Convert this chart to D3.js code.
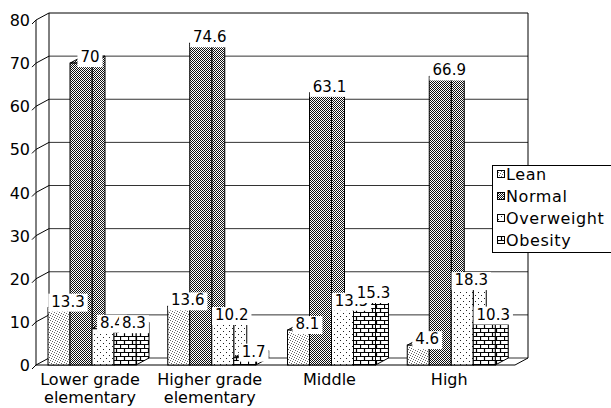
<!DOCTYPE html>
<html>
<head>
<meta charset="utf-8">
<script src="https://cdn.jsdelivr.net/npm/d3@7"></script>
<style>
  html, body { margin: 0; padding: 0; background: #fff; }
  svg { display: block; font-family: 'DejaVu Sans', sans-serif; }
</style>
</head>
<body>
<div id="svg-container"></div>
<script>
const categories = [
  ['Lower grade', 'elementary'],
  ['Higher grade', 'elementary'],
  ['Middle'],
  ['High'],
]
const seriesNames = ['Lean', 'Normal', 'Overweight', 'Obesity']
const lean = [13.3, 13.6, 8.1, 4.6]
const normal = [70, 74.6, 63.1, 66.9]
const overweight = [8.4, 10.2, 13.5, 18.3]
const obesity = [8.3, 1.7, 15.3, 10.3]
const yTicks = [0, 10, 20, 30, 40, 50, 60, 70, 80]

const seriesValues = [lean, normal, overweight, obesity]

const width = 611
const height = 408

// 3d offsets of the back wall
const depthX = 13
const depthY = -7

const frontLeft = 36
const frontRight = 515
const barWidth = 22
const groupOffset = 12

const svg = d3
  .select('#svg-container')
  .append('svg')
  .attr('width', width)
  .attr('height', height)
  .attr('viewBox', `0 0 ${width} ${height}`)

const defs = svg.append('defs')

// dot pattern helper
const dotPattern = (id, size, bg, fg, dots) => {
  const p = defs
    .append('pattern')
    .attr('id', id)
    .attr('patternUnits', 'userSpaceOnUse')
    .attr('width', size)
    .attr('height', size)
  p.append('rect').attr('width', size).attr('height', size).attr('fill', bg)
  dots.forEach(([x, y]) =>
    p
      .append('rect')
      .attr('x', x)
      .attr('y', y)
      .attr('width', 1)
      .attr('height', 1)
      .attr('fill', fg),
  )
}

dotPattern('pat-lean', 5, '#fff', '#666', [
  [0, 0],
  [2, 1],
  [4, 2],
  [1, 3],
  [3, 4],
])
dotPattern('pat-normal', 2, '#fff', '#111', [
  [0, 0],
  [1, 1],
])
dotPattern('pat-over', 6, '#fff', '#222', [
  [1, 1],
  [4, 4],
])

const patObesity = defs
  .append('pattern')
  .attr('id', 'pat-obesity')
  .attr('patternUnits', 'userSpaceOnUse')
  .attr('width', 8)
  .attr('height', 8)
patObesity.append('rect').attr('width', 8).attr('height', 8).attr('fill', '#fff')
patObesity
  .append('path')
  .attr('d', 'M0,0.5H8M0,4.5H8M0.5,0V4M4.5,4V8')
  .attr('stroke', '#000')
  .attr('stroke-width', 1.2)

const patternIds = ['pat-lean', 'pat-normal', 'pat-over', 'pat-obesity']

// scales
const yFront = d3.scaleLinear().domain([0, 80]).range([365, 20])
const yBack = v => yFront(v) + depthY

const xBand = d3
  .scaleBand()
  .domain(d3.range(categories.length))
  .range([frontLeft, frontRight])

const barX = (gi, si) => xBand(gi) + groupOffset + si * barWidth

const frame = svg.append('g').attr('class', 'frame')
const backLeft = frontLeft + depthX
const backRight = frontRight + depthX

// back wall grid lines
frame
  .selectAll('line.grid')
  .data(yTicks)
  .join('line')
  .attr('class', 'grid')
  .attr('x1', backLeft)
  .attr('x2', backRight)
  .attr('y1', d => yBack(d))
  .attr('y2', d => yBack(d))
  .attr('stroke', d => (d === 80 ? '#000' : '#333'))
  .attr('stroke-width', 1)

// left side wall lines
frame
  .selectAll('line.side')
  .data(yTicks)
  .join('line')
  .attr('class', 'side')
  .attr('x1', frontLeft)
  .attr('x2', backLeft)
  .attr('y1', d => yFront(d))
  .attr('y2', d => yBack(d))
  .attr('stroke', '#000')

// small ticks on front axis
frame
  .selectAll('line.tick')
  .data(yTicks)
  .join('line')
  .attr('class', 'tick')
  .attr('x1', frontLeft - 4)
  .attr('x2', frontLeft)
  .attr('y1', d => yFront(d) + 4)
  .attr('y2', d => yFront(d))
  .attr('stroke', '#000')

const edges = [
  [frontLeft, yFront(0), frontLeft, yFront(80)],
  [backLeft, yBack(0), backLeft, yBack(80)],
  [backRight, yBack(0), backRight, yBack(80)],
  [frontLeft, yFront(0), frontRight, yFront(0)],
  [frontRight, yFront(0), backRight, yBack(0)],
]
frame
  .selectAll('line.edge')
  .data(edges)
  .join('line')
  .attr('class', 'edge')
  .attr('x1', d => d[0])
  .attr('y1', d => d[1])
  .attr('x2', d => d[2])
  .attr('y2', d => d[3])
  .attr('stroke', '#000')

// y tick labels
svg
  .append('g')
  .selectAll('text')
  .data(yTicks)
  .join('text')
  .attr('x', 30)
  .attr('y', d => yFront(d) + 6)
  .attr('text-anchor', 'end')
  .attr('font-size', 16)
  .text(d => d)

// bars
const barsData = []
categories.forEach((c, gi) => {
  seriesValues.forEach((vals, si) => {
    barsData.push({ gi, si, value: vals[gi] })
  })
})

const bars = svg.append('g').attr('class', 'bars')

bars
  .selectAll('g.bar')
  .data(barsData)
  .join('g')
  .attr('class', 'bar')
  .each(function (d) {
    const x0 = barX(d.gi, d.si)
    const x1 = x0 + barWidth
    const yT = yFront(d.value)
    const yB = yFront(0)
    const g = d3.select(this)
    const fill = `url(#${patternIds[d.si]})`
    // side face
    g.append('path')
      .attr(
        'd',
        `M${x1},${yB}L${x1 + depthX},${yB + depthY}L${x1 + depthX},${yT + depthY}L${x1},${yT}Z`,
      )
      .attr('fill', fill)
      .attr('stroke', '#000')
      .attr('stroke-width', 1)
    // top face
    g.append('path')
      .attr(
        'd',
        `M${x0},${yT}L${x0 + depthX},${yT + depthY}L${x1 + depthX},${yT + depthY}L${x1},${yT}Z`,
      )
      .attr('fill', fill)
      .attr('stroke', '#000')
      .attr('stroke-width', 1)
    // front face
    g.append('rect')
      .attr('x', x0)
      .attr('y', yT)
      .attr('width', barWidth)
      .attr('height', yB - yT)
      .attr('fill', fill)
      .attr('stroke', '#000')
      .attr('stroke-width', 1)
  })

// value labels
const labels = svg.append('g').attr('class', 'labels')
labels
  .selectAll('g.label')
  .data(barsData)
  .join('g')
  .attr('class', 'label')
  .each(function (d) {
    const g = d3.select(this)
    const cx = barX(d.gi, d.si) + barWidth / 2 + 9
    const y = yFront(d.value) - 1
    const t = g
      .append('text')
      .attr('x', cx)
      .attr('y', y)
      .attr('text-anchor', 'middle')
      .attr('font-size', 15)
      .text(String(d.value))
    const box = t.node().getBBox()
    g.insert('rect', 'text')
      .attr('x', box.x - 3)
      .attr('y', box.y + 1)
      .attr('width', box.width + 6)
      .attr('height', box.height)
      .attr('fill', '#fff')
  })

// category labels
svg
  .append('g')
  .selectAll('text')
  .data(categories)
  .join('text')
  .attr('x', (d, i) => xBand(i) + groupOffset + barWidth * 2 - 2)
  .attr('y', 385)
  .attr('text-anchor', 'middle')
  .attr('font-size', 16)
  .each(function (d) {
    d3.select(this)
      .selectAll('tspan')
      .data(d)
      .join('tspan')
      .attr('x', d3.select(this).attr('x'))
      .attr('dy', (l, i) => (i === 0 ? 0 : 18))
      .text(l => l)
  })

// legend
const legend = svg.append('g').attr('class', 'legend')
legend
  .append('rect')
  .attr('x', 492.5)
  .attr('y', 165.5)
  .attr('width', 130)
  .attr('height', 87)
  .attr('fill', '#fff')
  .attr('stroke', '#000')

legend
  .selectAll('g.item')
  .data(seriesNames)
  .join('g')
  .attr('class', 'item')
  .attr('transform', (d, i) => `translate(497, ${174 + i * 22})`)
  .each(function (d, i) {
    const g = d3.select(this)
    g.append('rect')
      .attr('x', 0.5)
      .attr('y', -3.5)
      .attr('width', 7)
      .attr('height', 7)
      .attr('fill', `url(#${patternIds[i]})`)
      .attr('stroke', '#000')
    g.append('text')
      .attr('x', 9)
      .attr('y', 6)
      .attr('font-size', 16)
      .attr('letter-spacing', 0.6)
      .text(d)
  })
</script>
</body>
</html>
